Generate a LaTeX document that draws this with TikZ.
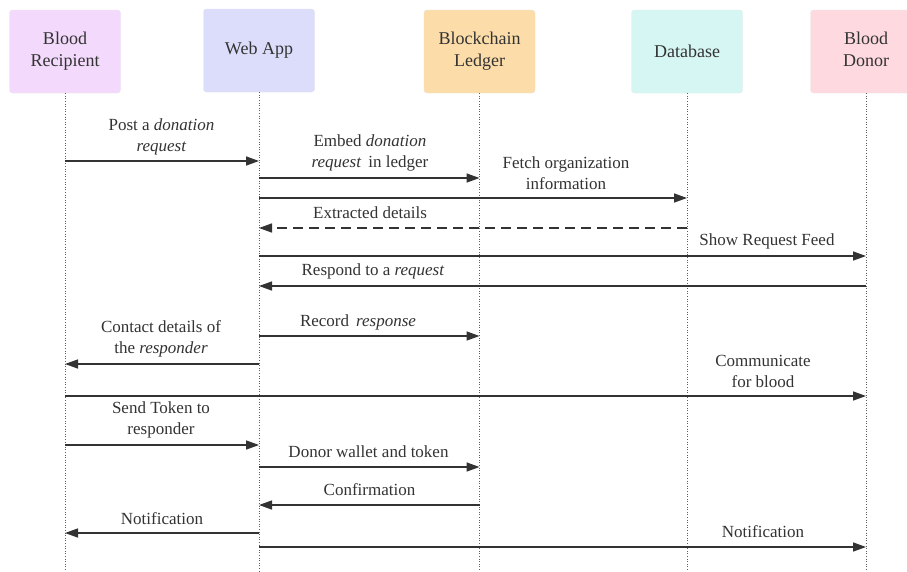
\documentclass[tikz,border=0pt]{standalone}
\usepackage{fontspec}
\setmainfont{Liberation Serif}
\usetikzlibrary{arrows.meta}
\definecolor{ink}{HTML}{333333}
\definecolor{cRec}{HTML}{F3D9FB}
\definecolor{cWeb}{HTML}{DCDDFB}
\definecolor{cBc}{HTML}{FCDCA8}
\definecolor{cDb}{HTML}{D5F6F2}
\definecolor{cDon}{HTML}{FEDAE0}
\tikzset{
  actor/.style={rounded corners=3pt, minimum width=111pt, minimum height=83pt, align=center,
    font=\fontsize{18}{22}\selectfont, text=ink, draw=#1!85!black!40, fill=#1, line width=0.4pt},
  life/.style={draw=ink!80, line width=0.9pt, dash pattern=on 1pt off 1.6pt},
  msg/.style={draw=ink, line width=1.5pt, -{Triangle[length=13pt,width=9pt]}},
  reply/.style={msg, dash pattern=on 10pt off 6pt},
  lbl/.style={align=center, text=ink, font=\fontsize{17}{21}\selectfont, inner sep=0pt}
}
\begin{document}
\begin{tikzpicture}[x=1pt,y=-1pt]
\useasboundingbox (0,0) rectangle (907,571);
\fill[white] (0,0) rectangle (907,571);
% participants
\node[actor=cRec] (rec) at (65,51.5) {Blood\\Recipient};
\node[actor=cWeb] (web) at (259,50.5) {Web App};
\node[actor=cBc] (bc) at (479.5,51.5) {Blockchain\\Ledger};
\node[actor=cDb] (db) at (687,51.5) {Database};
\node[actor=cDon, text depth=4pt] (don) at (866,51.5) {Blood\\Donor};
% lifelines
\foreach \p in {rec,web,bc,db,don}{
  \coordinate (\p end) at (\p |- 0,571);
  \draw[life] (\p.south) -- (\p end);
}
% messages
\draw[msg] (rec |- 0,161) -- (web |- 0,161);
\node[lbl] (m1) at (161.5,136.5) {Post a \textit{donation}\\\textit{request}};
\draw[msg] (web |- 0,178) -- (bc |- 0,178);
\node[lbl] (m2) at (370,153) {Embed \textit{donation}\\\textit{request}\, in ledger};
\draw[msg] (web |- 0,198) -- (db |- 0,198);
\node[lbl] (m3) at (566,173) {Fetch organization\\information};
\draw[reply] (db |- 0,228) -- (web |- 0,228);
\node[lbl] (m4) at (370,213) {Extracted details};
\draw[msg] (web |- 0,256) -- (don |- 0,256);
\node[lbl] (m5) at (767,241) {Show Request Feed};
\draw[msg] (don |- 0,286) -- (web |- 0,286);
\node[lbl] (m6) at (373,271) {Respond to a \textit{request}};
\draw[msg] (web |- 0,336) -- (bc |- 0,336);
\node[lbl] (m7) at (358,322) {Record\, \textit{response}};
\draw[msg] (web |- 0,364) -- (rec |- 0,364);
\node[lbl] (m8) at (161,339) {Contact details of\\the \textit{responder}};
\draw[msg] (rec |- 0,396) -- (don |- 0,396);
\node[lbl] (m9) at (763,371) {Communicate\\for blood};
\draw[msg] (rec |- 0,445) -- (web |- 0,445);
\node[lbl] (m10) at (161,420) {Send Token to\\responder};
\draw[msg] (web |- 0,467) -- (bc |- 0,467);
\node[lbl] (m11) at (368.5,452) {Donor wallet and token};
\draw[msg] (bc |- 0,505) -- (web |- 0,505);
\node[lbl] (m12) at (369.5,490) {Confirmation};
\draw[msg] (web |- 0,533) -- (rec |- 0,533);
\node[lbl] (m13) at (162,519) {Notification};
\draw[msg] (web |- 0,547) -- (don |- 0,547);
\node[lbl] (m14) at (763,532) {Notification};
\end{tikzpicture}
\end{document}
